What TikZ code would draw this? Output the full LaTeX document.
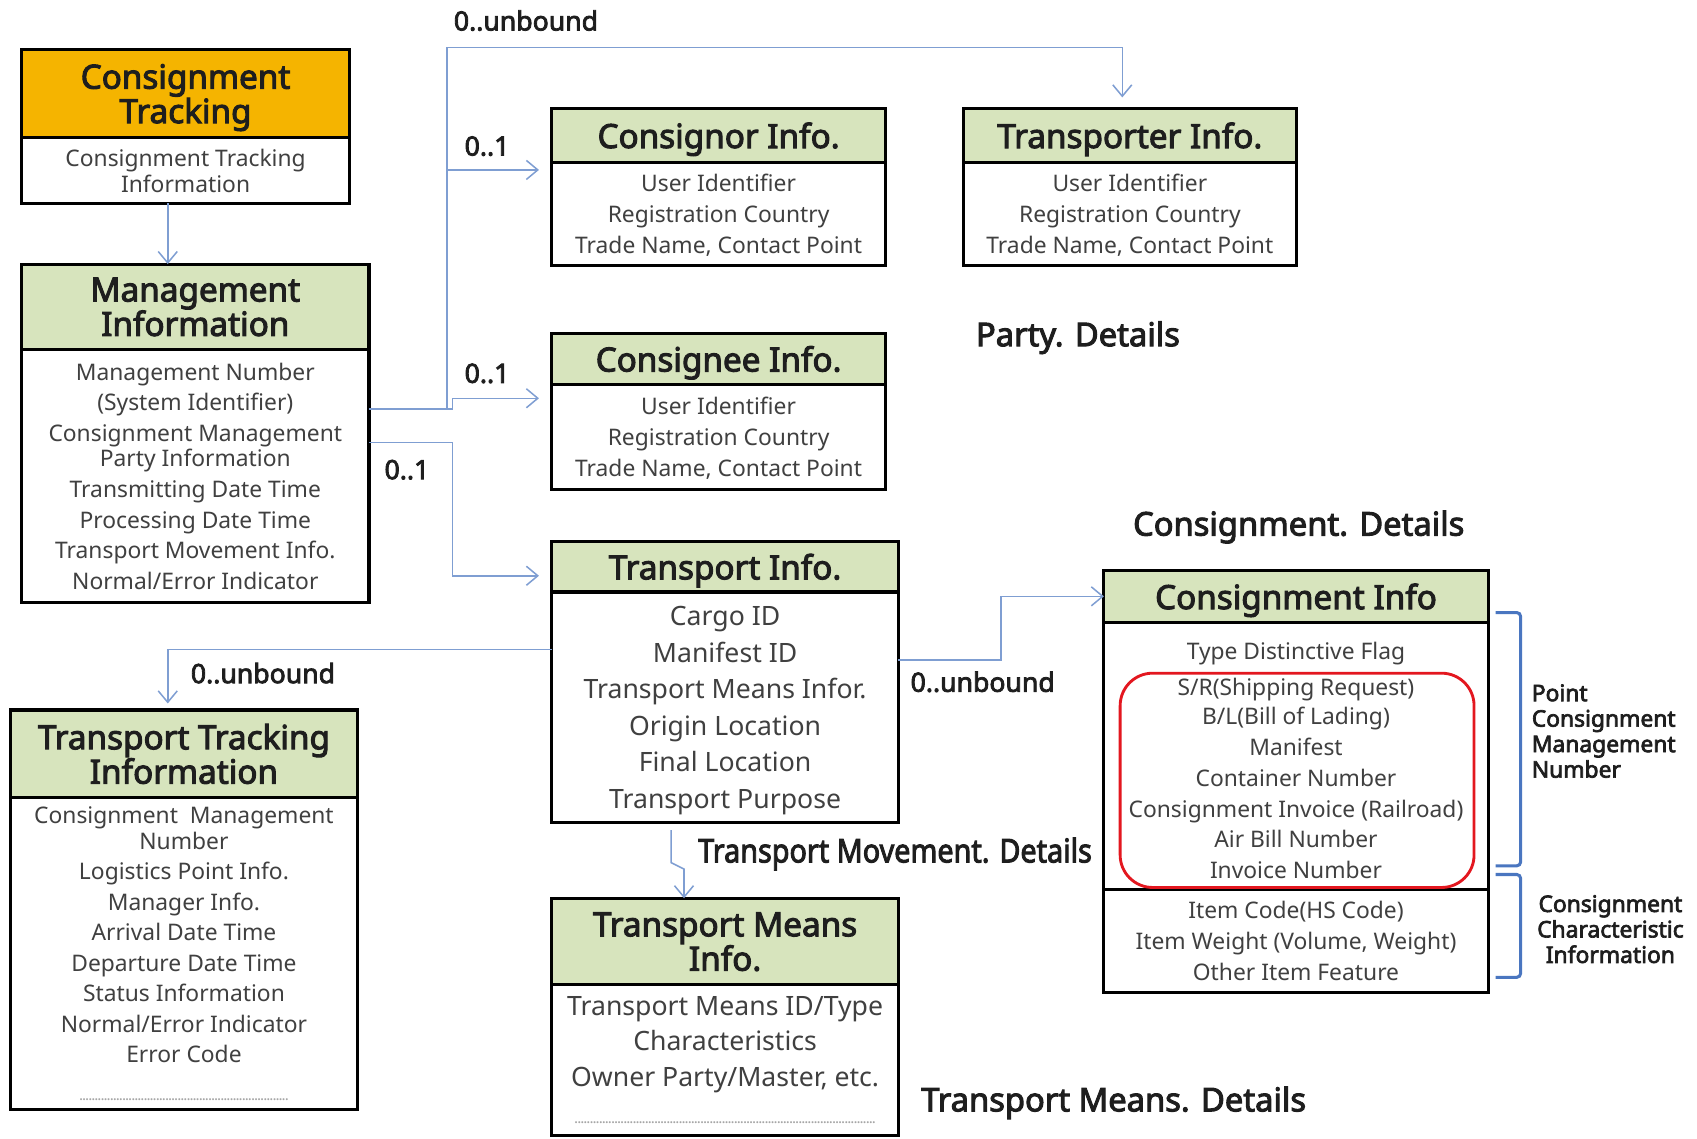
\documentclass[tikz,border=0pt]{standalone}
\usepackage{fontspec}
\setmainfont{Noto Sans}[AutoFakeBold=3]
\usetikzlibrary{arrows.meta, positioning}

\definecolor{headgreen}{HTML}{D7E4BD}
\definecolor{headorange}{HTML}{F5B400}
\definecolor{linkblue}{HTML}{7F9ED2}
\definecolor{bracketblue}{HTML}{4A76C0}
\definecolor{framered}{HTML}{E3171F}
\definecolor{bodytext}{HTML}{404040}
\definecolor{titletext}{HTML}{1E1E1E}

\newcommand{\dotrow}[1]{{\color{gray!70}\fontsize{8}{8}\selectfont\hbox to #1{\xleaders\hbox to 1.6pt{\hss.\hss}\hfill}}}

\begin{document}
\begin{tikzpicture}[
  x=0.02cm, y=-0.02cm,
  head/.style={rectangle, draw, line width=1.6pt, outer sep=0pt, fill=headgreen, text=titletext, align=center, inner sep=0pt, text depth=0pt, anchor=north west, font=\fontsize{17.5}{18.1}\selectfont\bfseries},
  body/.style={rectangle, draw, line width=1.6pt, outer sep=0pt, fill=white, text=bodytext, align=center, inner sep=0pt, text depth=0pt, font=\fontsize{12}{16.2}\selectfont},
  link/.style={draw=linkblue, line width=0.8pt, -{Straight Barb[length=6pt, width=10pt]}},
  mult/.style={font=\fontsize{14}{14}\selectfont\bfseries, text=titletext, inner sep=0pt},
  area/.style={font=\fontsize{17.2}{17.2}\selectfont\bfseries, text=titletext, inner sep=0pt},
  side/.style={font=\fontsize{12}{13.4}\selectfont\bfseries, text=titletext, inner sep=0pt},
  bracket/.style={draw=bracketblue, line width=1.6pt, rounded corners=2pt},
  redframe/.style={draw=framered, line width=1.5pt, rounded corners=0.6cm}
]
\useasboundingbox (0,0) rectangle (1568,1052);

% boxes
\node[head, fill=headorange, minimum width=6.06cm, minimum height=1.62cm] (ct_head) at (20,46) {Consignment\\Tracking};
\node[body, below=0pt of ct_head, minimum width=6.06cm, minimum height=1.22cm, font=\fontsize{12}{13.6}\selectfont] (ct_body) {Consignment Tracking\\Information};

\node[head, minimum width=6.42cm, minimum height=1.58cm] (mgmt_head) at (20,244) {Management\\Information};
\node[body, below=0pt of mgmt_head, minimum width=6.42cm, minimum height=4.68cm] (mgmt_body) {Management Number\\(System Identifier)\\Consignment Management\\[-3.2pt]Party Information\\Transmitting Date Time\\Processing Date Time\\Transport Movement Info.\\Normal/Error Indicator};

\node[head, minimum width=6.16cm, minimum height=1cm] (consignor_head) at (510,100) {Consignor Info.};
\node[body, below=0pt of consignor_head, minimum width=6.16cm, minimum height=1.9cm, font=\fontsize{12}{16.4}\selectfont] (consignor_body) {User Identifier\\Registration Country\\Trade Name, Contact Point};

\node[head, minimum width=6.16cm, minimum height=1cm] (transporter_head) at (890,100) {Transporter Info.};
\node[body, below=0pt of transporter_head, minimum width=6.16cm, minimum height=1.9cm, font=\fontsize{12}{16.4}\selectfont] (transporter_body) {User Identifier\\Registration Country\\Trade Name, Contact Point};

\node[head, minimum width=6.16cm, minimum height=0.94cm] (consignee_head) at (510,308) {Consignee Info.};
\node[body, below=0pt of consignee_head, minimum width=6.16cm, minimum height=1.94cm, font=\fontsize{12}{16.4}\selectfont] (consignee_body) {User Identifier\\Registration Country\\Trade Name, Contact Point};

\node[head, minimum width=6.4cm, minimum height=0.94cm] (tinfo_head) at (510,500) {Transport Info.};
\node[body, below=0pt of tinfo_head, minimum width=6.4cm, minimum height=4.26cm, font=\fontsize{14}{19.2}\selectfont] (tinfo_body) {Cargo ID\\Manifest ID\\Transport Means Infor.\\Origin Location\\Final Location\\Transport Purpose};

\node[head, minimum width=7.1cm, minimum height=0.96cm] (cinfo_head) at (1020,527) {Consignment Info};
\node[body, below=0pt of cinfo_head, minimum width=7.1cm, minimum height=4.94cm] (cinfo_body) {\rule{0pt}{13.6pt}Type Distinctive Flag\\[3pt]S/R(Shipping Request)\\[-0.9pt]B/L(Bill of Lading)\\Manifest\\Container Number\\Consignment Invoice (Railroad)\\Air Bill Number\\Invoice Number};
\node[body, below=0pt of cinfo_body, minimum width=7.1cm, minimum height=1.9cm] (cinfo_item) {Item Code(HS Code)\\Item Weight (Volume, Weight)\\Other Item Feature};

\node[head, minimum width=6.4cm, minimum height=1.62cm] (ttrack_head) at (10,656) {Transport Tracking\\Information};
\node[body, below=0pt of ttrack_head, minimum width=6.4cm, minimum height=5.76cm, font=\fontsize{12}{16}\selectfont] (ttrack_body) {Consignment~~Management\\[-2.4pt]Number\\Logistics Point Info.\\Manager Info.\\Arrival Date Time\\Departure Date Time\\Status Information\\Normal/Error Indicator\\Error Code\\[3.8pt]\dotrow{3.86cm}};

\node[head, minimum width=6.4cm, minimum height=1.6cm] (tmeans_head) at (510,830) {Transport Means\\Info.};
\node[body, below=0pt of tmeans_head, minimum width=6.4cm, minimum height=2.78cm, font=\fontsize{14}{18.7}\selectfont] (tmeans_body) {Transport Means ID/Type\\Characteristics\\Owner Party/Master, etc.\\[1pt]\dotrow{5.56cm}};

% highlight and brackets
\draw[redframe] (1035,622) rectangle (1362,820);
\draw[bracket] (1382,566) -| (1405,800) -- (1382,800);
\draw[bracket] (1382,808) -| (1405,903) -- (1382,903);

% labels
\node[mult] (m_top) at (486,19) {0..unbound};
\node[mult] (m_cnor) at (450,135) {0..1};
\node[mult] (m_cnee) at (450,345) {0..1};
\node[mult] (m_tinfo) at (376,434) {0..1};
\node[mult] (m_ttrack) at (243,622) {0..unbound};
\node[mult] (m_cinfo) at (908,630) {0..unbound};

\node[area] (party_lbl) at (996,312) {Party. Details};
\node[area] (cons_lbl) at (1200,487) {Consignment. Details};
\node[area] (move_lbl) at (827,789) {\scalebox{0.88}[1]{Transport Movement. Details}};
\node[area] (means_lbl) at (1029,1019) {Transport Means. Details};

\node[side, anchor=west, align=left] (point_lbl) at (1415,675.5) {Point\\Consignment\\Management\\Number};
\node[side, align=center] (char_lbl) at (1488,858.5) {Consignment\\Characteristic\\Information};

% connectors
\coordinate (ct_drop) at (155,0);
\coordinate (party_split) at (413,378);
\coordinate (top_run) at (413,44);
\coordinate (cnor_split) at (413,157);
\coordinate (cnee_in) at (418,368);
\coordinate (tinfo_split) at (418,409);
\coordinate (ttrack_turn) at (155,600);
\coordinate (cinfo_turn) at (925,610);
\coordinate (tmeans_jog_a) at (620,797);
\coordinate (tmeans_jog_b) at (632,803);

\draw[link] (ct_body.south -| ct_drop) -- (mgmt_head.north -| ct_drop);
\draw[link, shorten >=0.2cm] (mgmt_body.east |- party_split) -- (party_split) -- (top_run) -| ([xshift=-0.14cm]transporter_head.north);
\draw[link, shorten >=0.24cm] (cnor_split) -- (cnor_split -| consignor_body.west);
\draw[link, shorten >=0.24cm] (party_split) -| (cnee_in) -- (cnee_in -| consignee_body.west);
\draw[link, shorten >=0.24cm] (mgmt_body.east |- tinfo_split) -- (tinfo_split) |- ([yshift=-0.17cm]tinfo_head.west);
\draw[link, shorten >=0.12cm] (tinfo_body.west |- ttrack_turn) -| (ttrack_head.north -| ttrack_turn);
\draw[link] (tinfo_body.east |- cinfo_turn) -- (cinfo_turn) |- (cinfo_head.west);
\draw[link, shorten <=0.14cm] (tinfo_body.south -| tmeans_jog_a) -- (tmeans_jog_a) -- (tmeans_jog_b) -- (tmeans_jog_b |- tmeans_head.north);

\end{tikzpicture}
\end{document}
